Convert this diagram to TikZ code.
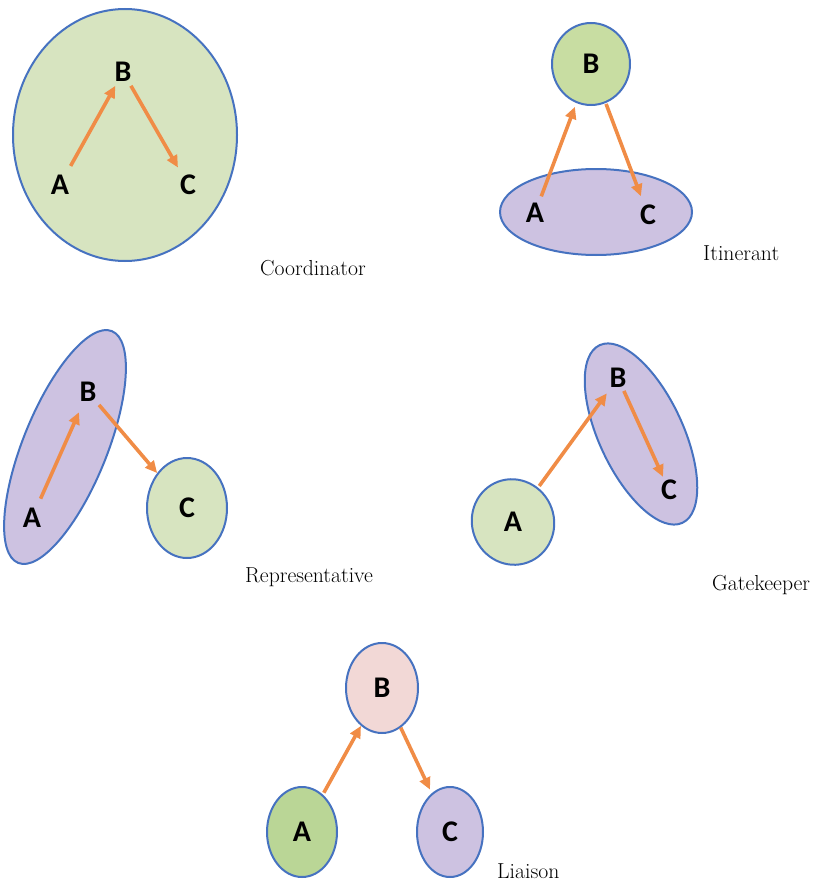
\documentclass[tikz,border=0pt]{standalone}
\usepackage{fontspec}
\newfontfamily\letterfont{Carlito}
\newcommand\letterlabel{\letterfont\bfseries\fontsize{30}{30}\selectfont}
\usetikzlibrary{shapes.geometric,arrows.meta}

\definecolor{edgeblue}{RGB}{70,114,192}
\definecolor{paleGreen}{RGB}{215,228,192}
\definecolor{midGreen}{RGB}{200,221,162}
\definecolor{deepGreen}{RGB}{186,214,150}
\definecolor{lavender}{RGB}{205,194,225}
\definecolor{blush}{RGB}{242,216,214}
\definecolor{flowOrange}{RGB}{240,140,70}

\begin{document}
\begin{tikzpicture}[x=1pt,y=-1pt,
  region/.style={draw=edgeblue, line width=2pt},
  blob/.style={ellipse, region, inner sep=0pt, font=\letterlabel},
  letter/.style={inner sep=3pt, font=\letterlabel},
  flow/.style={draw=flowOrange, line width=3.6pt,
               -{Triangle[length=12pt,width=11pt]}},
  role/.style={anchor=base west, inner sep=0pt,
               font=\fontsize{21.7}{23}\selectfont}]
\useasboundingbox (0,0) rectangle (814,888);

% ---------- Coordinator ----------
\draw[region, fill=paleGreen] (125,135) ellipse [x radius=112, y radius=126];
\node[letter] (cA) at (60,185) {A};
\node[letter] (cB) at (123,72) {B};
\node[letter] (cC) at (188,185) {C};
\draw[flow, shorten <=7pt, shorten >=1pt] (cA) -- (cB);
\draw[flow, shorten <=1pt, shorten >=5pt] (cB) -- (cC);
\node[role] (cap1) at (260,275) {Coordinator};

% ---------- Itinerant ----------
\draw[region, fill=lavender] (596,212) ellipse [x radius=96, y radius=43];
\node[blob, fill=midGreen, minimum width=78pt, minimum height=82pt] (iB) at (591,64) {B};
\node[letter] (iA) at (535,213) {A};
\node[letter] (iC) at (648,215) {C};
\draw[flow, shorten <=4pt, shorten >=4pt] (iA) -- (iB);
\draw[flow, shorten <=1pt, shorten >=6pt] (iB) -- (iC);
\node[role] (cap2) at (703,260) {Itinerant};

% ---------- Representative ----------
\draw[region, fill=lavender, rotate around={68:(65,447)}] (65,447) ellipse [x radius=125, y radius=42];
\node[blob, fill=paleGreen, minimum width=80pt, minimum height=100pt] (rC) at (187,508) {C};
\node[letter] (rA) at (32,518) {A};
\node[letter] (rB) at (88,392) {B};
\draw[flow, shorten <=7pt, shorten >=8pt] (rA) -- (rB);
\draw[flow, shorten <=0pt] (rB) -- (rC);
\node[role] (cap3) at (245,582) {Representative};

% ---------- Gatekeeper ----------
\draw[region, fill=lavender, rotate around={-65:(641,434)}] (641,434) ellipse [x radius=98, y radius=42];
\node[blob, fill=paleGreen, minimum width=82pt, minimum height=86pt, rotate=20] (gA) at (513,522) {};
\node[font=\letterlabel, inner sep=0pt] (gAt) at (513,522) {A};
\node[letter] (gB) at (618,378) {B};
\node[letter] (gC) at (669,490) {C};
\draw[flow, shorten <=2pt, shorten >=3pt] (gA) -- (gB);
\draw[flow, shorten >=0pt] (gB) -- (gC);
\node[role] (cap4) at (712,590) {Gatekeeper};

% ---------- Liaison ----------
\node[blob, fill=blush, minimum width=72pt, minimum height=90pt] (lB) at (382,688) {B};
\node[blob, fill=deepGreen, minimum width=70pt, minimum height=90pt] (lA) at (302,832) {A};
\node[blob, fill=lavender, minimum width=66pt, minimum height=90pt] (lC) at (450,832) {C};
\draw[flow, shorten <=2pt] (lA) -- (lB);
\draw[flow, shorten >=4pt] (lB) -- (lC);
\node[role] (cap5) at (497,878) {Liaison};
\end{tikzpicture}
\end{document}
